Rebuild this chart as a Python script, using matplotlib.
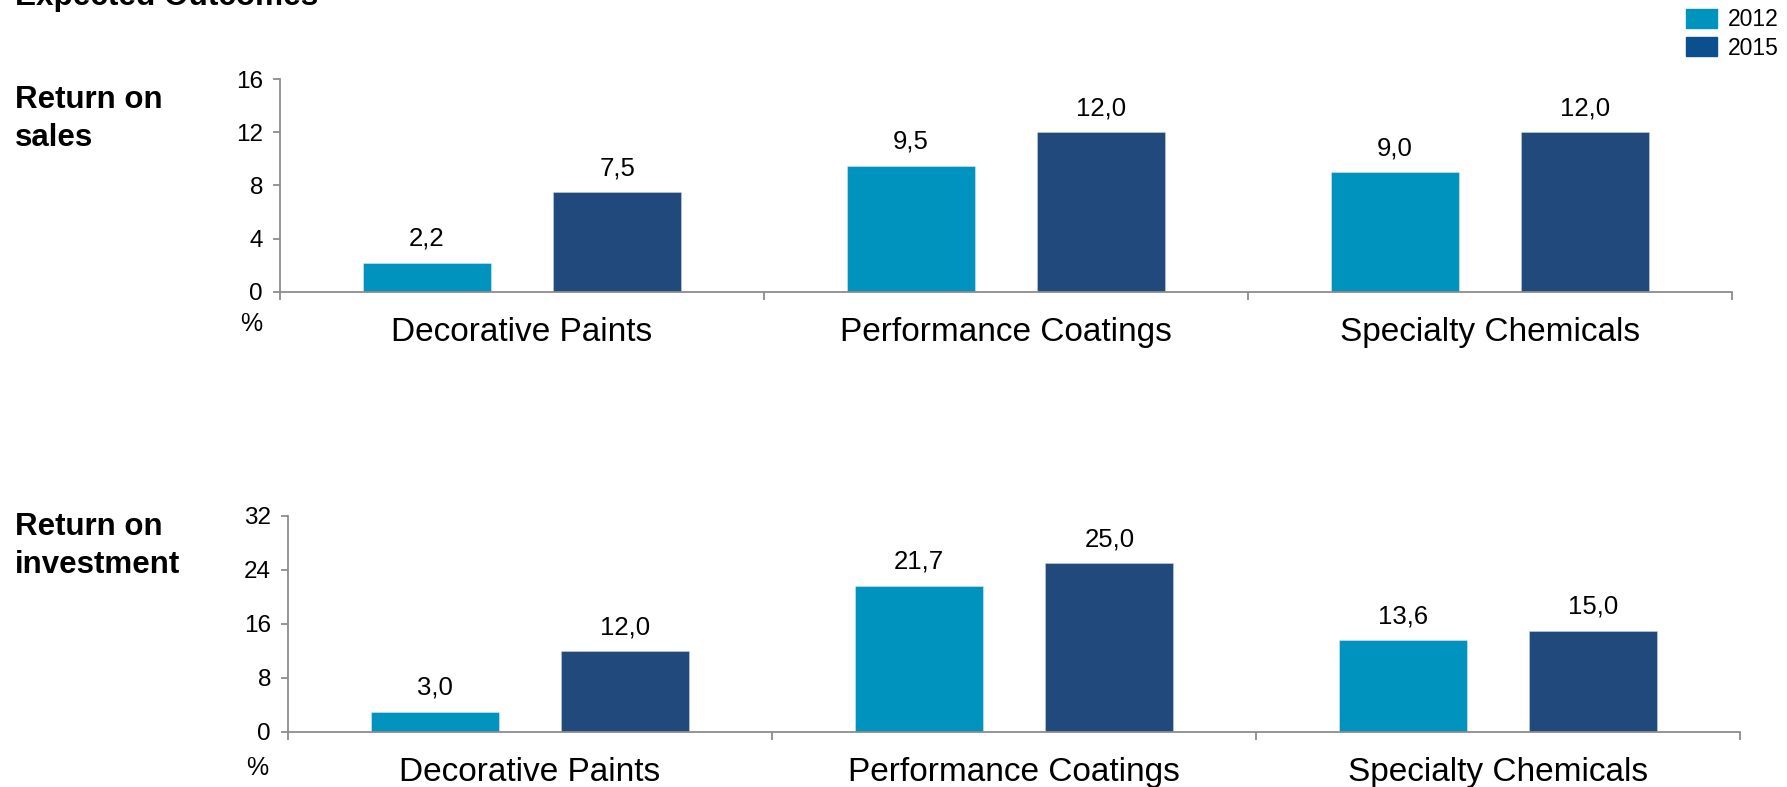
import matplotlib
matplotlib.use("Agg")
import matplotlib.pyplot as plt
from matplotlib.patches import Patch
import numpy as np

plt.rcParams['font.family'] = ['Liberation Sans', 'DejaVu Sans']

categories = ["Decorative Paints", "Performance Coatings", "Specialty Chemicals"]
years = ["2012", "2015"]

ros_2012 = [2.2, 9.5, 9.0]
ros_2015 = [7.5, 12.0, 12.0]
roi_2012 = [3.0, 21.7, 13.6]
roi_2015 = [12.0, 25.0, 15.0]

ros_ticks = [0, 4, 8, 12, 16]
roi_ticks = [0, 8, 16, 24, 32]

COLOR_2012 = "#0093BD"
COLOR_2015 = "#21497B"
LEGEND_2015 = "#0B4F8E"
AXIS_GREY = "#8C8C8C"

BAR_W = 0.264
OFFSET = 0.197


def fmt(v):
    return f"{v:.1f}".replace(".", ",")


def draw_panel(ax, vals_a, vals_b, yticks):
    x = np.arange(len(categories))
    bars_a = ax.bar(x - OFFSET, vals_a, BAR_W, color=COLOR_2012, edgecolor="#d8e6ee", linewidth=0.4)
    bars_b = ax.bar(x + OFFSET, vals_b, BAR_W, color=COLOR_2015, edgecolor="#c8d2dd", linewidth=0.4)
    for bars, vals in ((bars_a, vals_a), (bars_b, vals_b)):
        for b, v in zip(bars, vals):
            ax.annotate(fmt(v), (b.get_x() + b.get_width() / 2, v),
                        xytext=(0, 12.2), textcoords="offset points",
                        ha="center", va="baseline", fontsize=18.5)

    ax.set_xlim(-0.5, len(categories) - 0.5)
    ax.set_ylim(yticks[0], yticks[-1])
    ax.set_yticks(yticks)
    ax.set_yticklabels([str(t) for t in yticks])

    # group separators as major ticks, category names as minor ticks
    ax.set_xticks(np.arange(len(categories) + 1) - 0.5)
    ax.set_xticklabels([])
    ax.set_xticks(x, minor=True)
    ax.set_xticklabels(categories, minor=True, fontsize=24)
    ax.tick_params(axis="x", which="major", direction="out", length=6, width=1.3, color=AXIS_GREY)
    ax.tick_params(axis="x", which="minor", length=0, pad=18)
    ax.tick_params(axis="y", direction="out", length=5.3, width=1.3, color=AXIS_GREY,
                   labelsize=17.5, pad=7)

    for side in ("top", "right"):
        ax.spines[side].set_visible(False)
    for side in ("left", "bottom"):
        ax.spines[side].set_color(AXIS_GREY)
        ax.spines[side].set_linewidth(1.3)
    return ax


fig = plt.figure(figsize=(17.87, 7.87), dpi=100)
W, H = 1787, 787

ax1 = fig.add_axes([280 / W, 1 - 292 / H, 1452 / W, 213 / H])
ax2 = fig.add_axes([288 / W, 1 - 732 / H, 1452 / W, 216 / H])

draw_panel(ax1, ros_2012, ros_2015, ros_ticks)
draw_panel(ax2, roi_2012, roi_2015, roi_ticks)

# unit markers under the y axes
fig.text(240 / W, 1 - 331 / H, "%", fontsize=18, va="baseline")
fig.text(246 / W, 1 - 775 / H, "%", fontsize=18, va="baseline")

# row headings
fig.text(15 / W, 1 - 108 / H, "Return on", fontsize=22.5, fontweight="bold", va="baseline")
fig.text(15 / W, 1 - 146 / H, "sales", fontsize=22.5, fontweight="bold", va="baseline")
fig.text(15 / W, 1 - 535 / H, "Return on", fontsize=22.5, fontweight="bold", va="baseline")
fig.text(15 / W, 1 - 573 / H, "investment", fontsize=22.5, fontweight="bold", va="baseline")

fig.text(15 / W, 1 - 5 / H, "Expected Outcomes", fontsize=22.7, fontweight="bold", va="baseline")

handles = [Patch(color=COLOR_2012), Patch(color=LEGEND_2015)]
fig.legend(handles, years, loc="upper right", bbox_to_anchor=(1779 / W, 1 - 8 / H),
           frameon=False, fontsize=16.5, handlelength=1.35, handleheight=0.9,
           handletextpad=0.5, labelspacing=0.25, borderpad=0, borderaxespad=0)

fig.savefig("out.png", dpi=100)
